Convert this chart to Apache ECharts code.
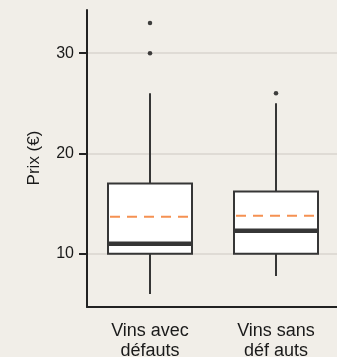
<!DOCTYPE html>
<html>
<head>
<meta charset="utf-8">
<script src="https://cdn.jsdelivr.net/npm/echarts@6/dist/echarts.min.js"></script>
<style>
  html, body { margin: 0; padding: 0; background: #f1eee8; }
  #chart { width: 337px; height: 357px; }
</style>
</head>
<body>
<div id="chart"></div>
<script>
// Wine price distributions: with and without defects
const categories = ['Vins avec\ndéfauts', 'Vins sans\ndéf auts'];
// [lower whisker, Q1, median, Q3, upper whisker]
const boxStats = [
  [6, 10, 11, 17, 26],
  [7.8, 10, 12.3, 16.2, 25]
];
const means = [13.7, 13.8];
// [category index, price]
const outliers = [
  [0, 33],
  [0, 30],
  [1, 26]
];
const yTicks = [10, 20, 30];

const BOX_W = 84;
const INK = '#363636';
const MEAN_COLOR = '#f59152';

const chart = echarts.init(document.getElementById('chart'), null, { renderer: 'canvas' });

// One box: whiskers without caps, white box, thick median, dashed mean
function renderBox(params, api) {
  const i = api.value(0);
  const lo = api.coord([i, api.value(1)]);
  const q1 = api.coord([i, api.value(2)]);
  const med = api.coord([i, api.value(3)]);
  const q3 = api.coord([i, api.value(4)]);
  const hi = api.coord([i, api.value(5)]);
  const mean = api.coord([i, api.value(6)]);
  const x = Math.round(lo[0]);
  const l = x - BOX_W / 2, r = x + BOX_W / 2;
  const stroke = { stroke: INK, lineWidth: 2 };
  return {
    type: 'group',
    children: [
      { type: 'line', shape: { x1: x, y1: hi[1], x2: x, y2: q3[1] }, style: stroke },
      { type: 'line', shape: { x1: x, y1: q1[1], x2: x, y2: lo[1] }, style: stroke },
      { type: 'rect', shape: { x: l, y: q3[1], width: BOX_W, height: q1[1] - q3[1] },
        style: { fill: '#ffffff', stroke: INK, lineWidth: 2 } },
      { type: 'line', shape: { x1: l + 1, y1: med[1], x2: r - 1, y2: med[1] },
        style: { stroke: INK, lineWidth: 4.5 } },
      { type: 'line', shape: { x1: l + 2, y1: mean[1], x2: r - 2, y2: mean[1] },
        style: { stroke: MEAN_COLOR, lineWidth: 2, lineDash: [10, 7] } }
    ]
  };
}

chart.setOption({
  backgroundColor: '#f1eee8',
  animation: false,
  grid: { left: 87, top: 10, width: 252, height: 297, outerBoundsMode: 'none', containLabel: false },
  xAxis: {
    type: 'category',
    data: categories,
    boundaryGap: true,
    axisLine: { lineStyle: { color: '#222', width: 2 } },
    axisTick: { alignWithLabel: true, length: 7, lineStyle: { color: '#222', width: 2 } },
    axisLabel: { color: '#1a1a1a', fontFamily: 'Liberation Sans', fontSize: 18, lineHeight: 20, margin: 14 },
    splitLine: { show: false }
  },
  yAxis: {
    type: 'value',
    min: 4.7,
    max: 34.3,
    axisLine: { show: true, lineStyle: { color: '#222', width: 2 } },
    axisTick: { show: true, customValues: yTicks, length: 8, lineStyle: { color: '#222', width: 2 } },
    axisLabel: { customValues: yTicks, color: '#1a1a1a', fontFamily: 'Liberation Sans', fontSize: 16, margin: 13 },
    splitLine: { show: true, lineStyle: { color: '#d8d5cf', width: 1.5 } }
  },
  graphic: [{
    type: 'text',
    x: 34,
    y: 158,
    rotation: Math.PI / 2,
    style: {
      text: 'Prix (€)',
      fill: '#1a1a1a',
      font: '17px "Liberation Sans"',
      align: 'center',
      verticalAlign: 'middle'
    }
  }],
  series: [
    {
      type: 'custom',
      data: boxStats.map((s, i) => [i, s[0], s[1], s[2], s[3], s[4], means[i]]),
      encode: { x: 0, y: [1, 2, 3, 4, 5, 6] },
      renderItem: renderBox,
      z: 3
    },
    {
      type: 'scatter',
      data: outliers,
      symbolSize: 4.5,
      itemStyle: { color: '#111' },
      z: 4
    }
  ]
});
</script>
</body>
</html>
